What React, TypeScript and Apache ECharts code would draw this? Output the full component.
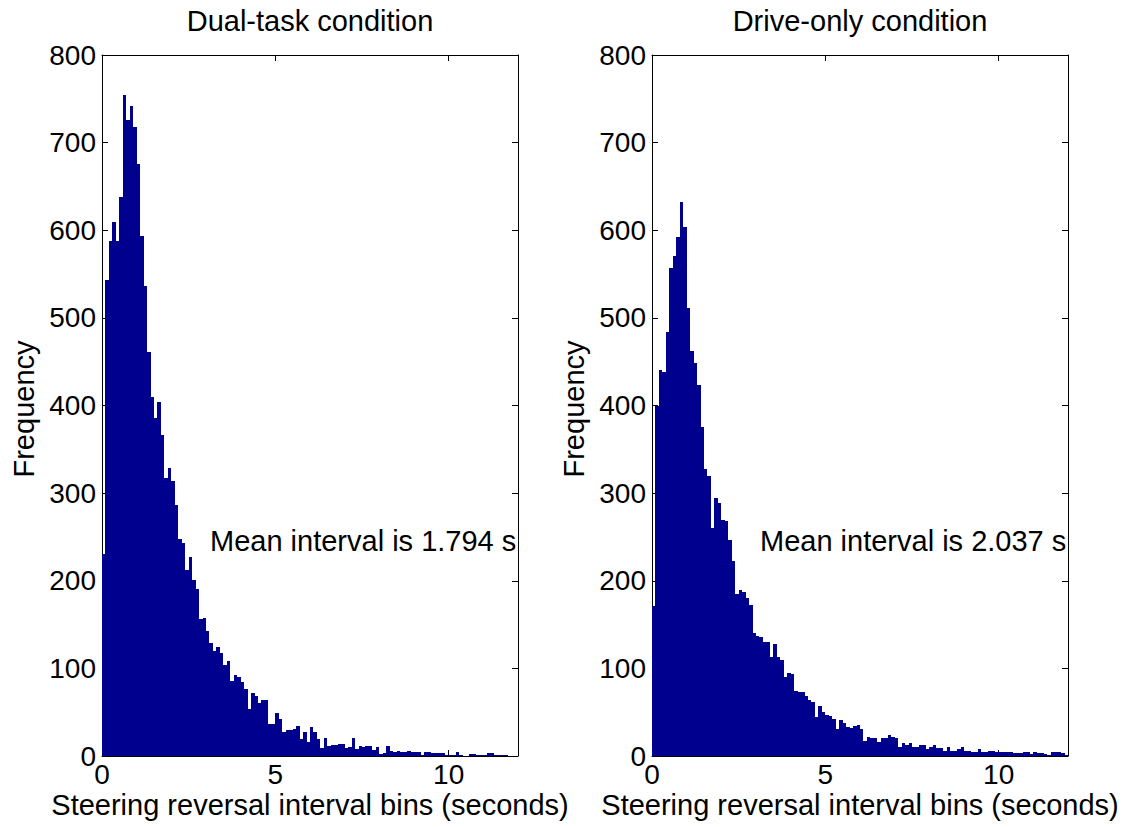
import React, { useEffect, useRef } from "react";
import * as echarts from "echarts";

const BIN_WIDTH = 0.1;
const X_TICKS = [0, 5, 10];
const TITLES = ["Dual-task condition", "Drive-only condition"];
const X_LABEL = "Steering reversal interval bins (seconds)";
const Y_LABEL = "Frequency";
const MEAN_TEXTS = ["Mean interval is 1.794 s", "Mean interval is 2.037 s"];

const dualTaskCounts = [
  230, 543, 588, 609, 588, 638, 754, 726, 742, 718,
  676, 593, 536, 461, 410, 386, 404, 366, 317, 329,
  314, 286, 248, 243, 212, 227, 201, 191, 156, 158,
  143, 129, 120, 124, 117, 104, 108, 86, 93, 90,
  85, 77, 54, 72, 68, 60, 64, 64, 37, 37,
  49, 42, 27, 30, 30, 31, 34, 19, 27, 16,
  33, 27, 19, 9, 20, 11, 13, 13, 14, 14,
  9, 10, 20, 8, 11, 10, 11, 11, 7, 10,
  2, 3, 11, 6, 5, 6, 5, 5, 6, 5,
  5, 5, 1, 4, 4, 3, 3, 3, 3, 1,
  1, 1, 4, 1, 0, 0, 2, 2, 1, 1,
  1, 3, 3, 1, 1, 1, 1, 0, 0, 0,
];

const driveOnlyCounts = [
  171, 400, 441, 438, 484, 557, 571, 592, 632, 604,
  511, 462, 449, 423, 376, 327, 319, 260, 294, 289,
  269, 268, 246, 223, 185, 190, 187, 180, 172, 140,
  137, 136, 130, 130, 113, 128, 113, 109, 90, 95,
  94, 74, 73, 73, 69, 64, 62, 45, 57, 50,
  47, 46, 42, 31, 41, 38, 33, 32, 34, 35,
  31, 17, 22, 21, 21, 16, 21, 21, 24, 22,
  21, 10, 15, 13, 15, 10, 10, 13, 13, 8,
  10, 13, 9, 9, 6, 10, 6, 6, 8, 10,
  6, 6, 4, 5, 8, 5, 5, 6, 6, 5,
  5, 4, 4, 4, 3, 3, 3, 4, 4, 2,
  5, 3, 3, 2, 1, 4, 4, 4, 3, 1,
];

const FONT = "'Liberation Sans', Arial, sans-serif";
const BAR_COLOR = "#00008F";
const GRID_LEFTS = [102, 652];
const GRID_TOP = 55;
const GRID_W = 416;
const GRID_H = 701;

function toData(counts: number[]) {
  return counts.map((c, i) => [Math.round(i * BIN_WIDTH * 10) / 10, c]);
}

export default function App() {
  const ref = useRef<HTMLDivElement>(null);
  useEffect(() => {
    if (!ref.current) return;
    const chart = echarts.init(ref.current, null, { renderer: "svg" });
    const grids = GRID_LEFTS.map((l) => ({ left: l, top: GRID_TOP, width: GRID_W, height: GRID_H }));
    const axisLine = { show: true, onZero: false, lineStyle: { color: "#000", width: 1 } };
    const tick = { show: true, inside: true, length: 6, lineStyle: { color: "#000" } };
    const xAxes: any[] = [];
    const yAxes: any[] = [];
    grids.forEach((_, gi) => {
      xAxes.push({
        type: "value", gridIndex: gi, position: "bottom", min: 0, max: 12, interval: 5,
        axisLine, axisTick: tick,
        axisLabel: {
          show: true, fontSize: 28, color: "#000", fontFamily: FONT, margin: 4,
          showMaxLabel: false,
          formatter: (v: number) => (X_TICKS.includes(v) ? String(v) : ""),
        },
        splitLine: { show: false },
      });
      xAxes.push({
        type: "value", gridIndex: gi, position: "top", min: 0, max: 12, interval: 5,
        axisLine, axisTick: tick,
        axisLabel: { show: false }, splitLine: { show: false },
      });
      yAxes.push({
        type: "value", gridIndex: gi, position: "left", min: 0, max: 800, interval: 100,
        axisLine, axisTick: tick,
        axisLabel: { show: true, fontSize: 28, color: "#000", fontFamily: FONT, margin: 6 },
        splitLine: { show: false },
      });
      yAxes.push({
        type: "value", gridIndex: gi, position: "right", min: 0, max: 800, interval: 100,
        axisLine, axisTick: tick,
        axisLabel: { show: false }, splitLine: { show: false },
      });
    });

    const renderItem = (params: any, api: any) => {
      const x0 = api.value(0);
      const y = api.value(1);
      const p0 = api.coord([x0, 0]);
      const p1 = api.coord([x0 + BIN_WIDTH, y]);
      const left = Math.round(p0[0]);
      const right = Math.round(p1[0]);
      const bottom = Math.round(p0[1]);
      const top = Math.round(p1[1]);
      return {
        type: "rect",
        shape: { x: left, y: top, width: right - left, height: bottom - top },
        style: { fill: BAR_COLOR },
      };
    };

    const series = [dualTaskCounts, driveOnlyCounts].map((counts, gi) => ({
      type: "custom",
      xAxisIndex: gi * 2,
      yAxisIndex: gi * 2,
      renderItem,
      encode: { x: 0, y: 1 },
      data: toData(counts),
      clip: true,
      z: 1,
    }));

    const graphics: any[] = [];
    GRID_LEFTS.forEach((l, gi) => {
      const cx = l + GRID_W / 2;
      graphics.push({
        type: "text", x: cx, y: 21,
        style: { text: TITLES[gi], font: `29px ${FONT}`, fill: "#000", align: "center", verticalAlign: "middle" },
      });
      graphics.push({
        type: "text", x: cx, y: 805,
        style: { text: X_LABEL, font: `29px ${FONT}`, fill: "#000", align: "center", verticalAlign: "middle" },
      });
      graphics.push({
        type: "text", x: l - 78, y: 409, rotation: Math.PI / 2,
        style: { text: Y_LABEL, font: `29px ${FONT}`, fill: "#000", align: "center", verticalAlign: "middle" },
      });
      graphics.push({
        type: "text", x: l + 108, y: 541, z: 10,
        style: { text: MEAN_TEXTS[gi], font: `29px ${FONT}`, fill: "#000", align: "left", verticalAlign: "middle" },
      });
    });

    chart.setOption({
      animation: false,
      backgroundColor: "#fff",
      grid: grids,
      xAxis: xAxes,
      yAxis: yAxes,
      series,
      graphic: graphics,
    });
    return () => chart.dispose();
  }, []);
  return (
    <div
      ref={ref}
      style={{ position: "fixed", left: 0, top: 0, width: 1135, height: 827, background: "#fff" }}
    />
  );
}
